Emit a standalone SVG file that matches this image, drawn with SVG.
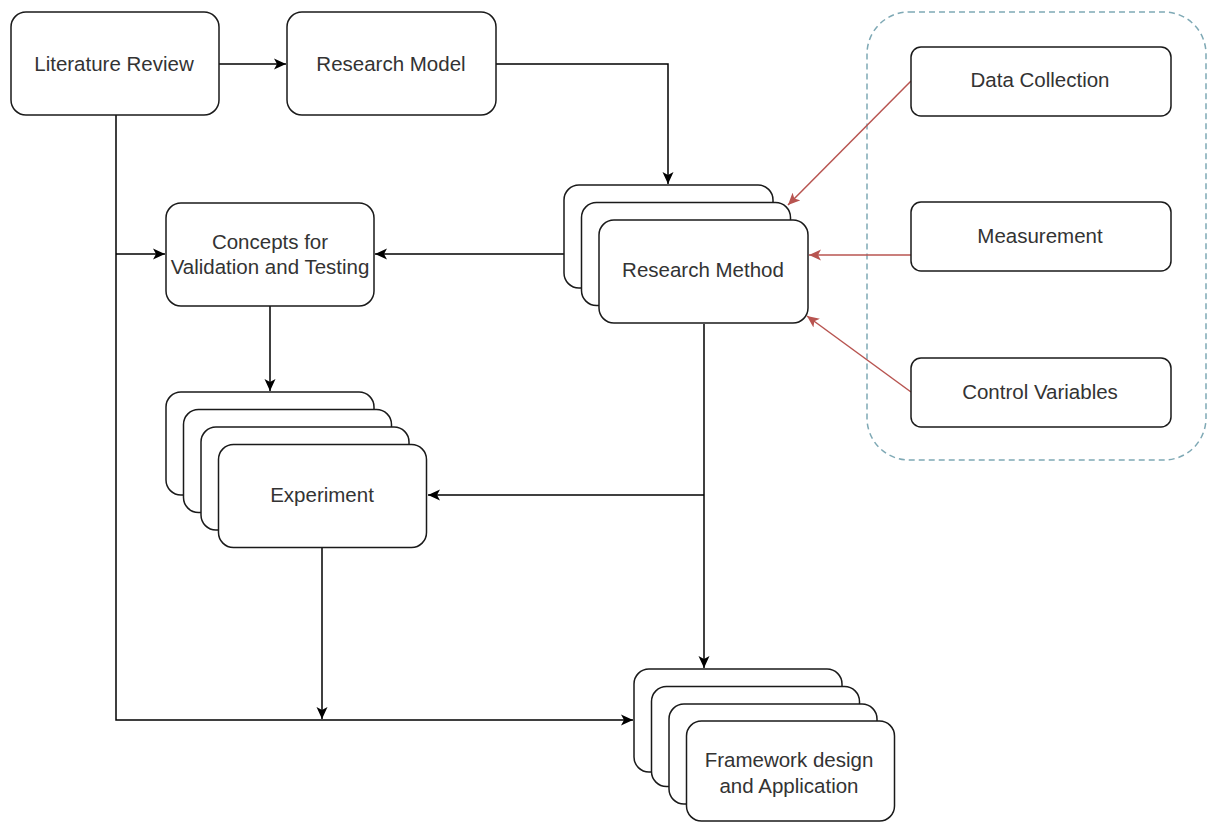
<svg xmlns="http://www.w3.org/2000/svg" width="1208" height="823" viewBox="0 0 1208 823">
  <style>
    .box { fill: #ffffff; stroke: #1a1a1a; stroke-width: 1.5; }
    .lbl { font-family: "Liberation Sans", Arial, sans-serif; font-size: 20.5px; fill: #333333; text-anchor: middle; }
    .edge { fill: none; stroke: #000000; stroke-width: 1.5; }
    .red { fill: none; stroke: #b85450; stroke-width: 1.5; }
    .group { fill: none; stroke: #7fa9b5; stroke-width: 1.5; stroke-dasharray: 6 4; }
  </style>
  <defs>
    <marker id="arrow" markerUnits="userSpaceOnUse" markerWidth="14" markerHeight="12" refX="12" refY="6" orient="auto">
      <path d="M0,0.5 L12,6 L0,11.5 L3,6 Z" fill="#000000"/>
    </marker>
    <marker id="arrowRed" markerUnits="userSpaceOnUse" markerWidth="14" markerHeight="12" refX="12" refY="6" orient="auto">
      <path d="M0,0.5 L12,6 L0,11.5 L3,6 Z" fill="#b85450"/>
    </marker>
  </defs>

  <!-- dashed grouping frame for the method inputs -->
  <rect id="inputs-frame" class="group" x="867" y="12" width="339" height="448" rx="42"/>

  <g id="connectors">
    <path class="edge" d="M219,64 L286,64" marker-end="url(#arrow)"/>
    <path class="edge" d="M496,64 L668,64 L668,184" marker-end="url(#arrow)"/>
    <path class="edge" d="M116,115 L116,720 L633,720" marker-end="url(#arrow)"/>
    <path class="edge" d="M116,254 L165,254" marker-end="url(#arrow)"/>
    <path class="edge" d="M564,254 L375,254" marker-end="url(#arrow)"/>
    <path class="edge" d="M270,306 L270,391" marker-end="url(#arrow)"/>
    <path class="edge" d="M704,324 L704,668" marker-end="url(#arrow)"/>
    <path class="edge" d="M704,495 L428,495" marker-end="url(#arrow)"/>
    <path class="edge" d="M322,548 L322,719" marker-end="url(#arrow)"/>
    <path class="red" d="M911,81 L788,205" marker-end="url(#arrowRed)"/>
    <path class="red" d="M911,255 L809,255" marker-end="url(#arrowRed)"/>
    <path class="red" d="M911,392 L807,316" marker-end="url(#arrowRed)"/>
  </g>

  <g id="literature-review">
    <rect class="box" x="11" y="12" width="208" height="103" rx="15"/>
    <text class="lbl" x="114" y="71">Literature Review</text>
  </g>

  <g id="research-model">
    <rect class="box" x="287" y="12" width="209" height="103" rx="15"/>
    <text class="lbl" x="391" y="71">Research Model</text>
  </g>

  <g id="research-method">
    <rect class="box" x="564" y="185" width="209" height="103" rx="15"/>
    <rect class="box" x="581.5" y="202.5" width="209" height="103" rx="15"/>
    <rect class="box" x="599" y="220" width="209" height="103" rx="15"/>
    <text class="lbl" x="703" y="277">Research Method</text>
  </g>

  <g id="concepts">
    <rect class="box" x="166" y="203" width="208" height="103" rx="15"/>
    <text class="lbl" x="270" y="249">Concepts for</text>
    <text class="lbl" x="270" y="274">Validation and Testing</text>
  </g>

  <g id="experiment">
    <rect class="box" x="166" y="392" width="208" height="103" rx="15"/>
    <rect class="box" x="183.5" y="409.5" width="208" height="103" rx="15"/>
    <rect class="box" x="201" y="427" width="208" height="103" rx="15"/>
    <rect class="box" x="218.5" y="444.5" width="208" height="103" rx="15"/>
    <text class="lbl" x="322" y="502">Experiment</text>
  </g>

  <g id="framework">
    <rect class="box" x="634" y="669" width="208" height="103" rx="15"/>
    <rect class="box" x="651.5" y="686.5" width="208" height="100" rx="15"/>
    <rect class="box" x="669" y="704" width="208" height="100" rx="15"/>
    <rect class="box" x="686.5" y="721" width="208" height="100" rx="15"/>
    <text class="lbl" x="789" y="767">Framework design</text>
    <text class="lbl" x="789" y="793">and Application</text>
  </g>

  <g id="data-collection">
    <rect class="box" x="911" y="47" width="260" height="69" rx="10"/>
    <text class="lbl" x="1040" y="87">Data Collection</text>
  </g>

  <g id="measurement">
    <rect class="box" x="911" y="202" width="260" height="69" rx="10"/>
    <text class="lbl" x="1040" y="243">Measurement</text>
  </g>

  <g id="control-variables">
    <rect class="box" x="911" y="358" width="260" height="69" rx="10"/>
    <text class="lbl" x="1040" y="399">Control Variables</text>
  </g>
</svg>
